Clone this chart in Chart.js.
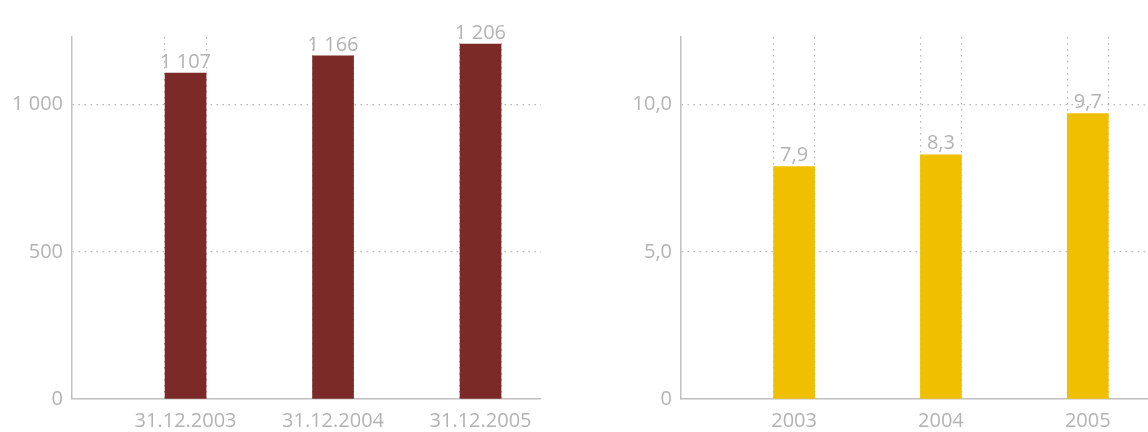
<!DOCTYPE html>
<html>
<head>
<meta charset="utf-8">
<script src="https://cdn.jsdelivr.net/npm/chart.js@4.4.1/dist/chart.umd.min.js"></script>
<style>
  html, body { margin: 0; padding: 0; background: #fff; }
  #wrap { position: relative; width: 1148px; height: 432px; overflow: hidden; }
  canvas { position: absolute; top: 0; }
</style>
</head>
<body>
<div id="wrap">
  <canvas id="left" width="574" height="432" style="left:0"></canvas>
  <canvas id="right" width="574" height="432" style="left:574px"></canvas>
</div>
<script>
// data
const leftCategories = ["31.12.2003", "31.12.2004", "31.12.2005"];
const leftValues = [1107, 1166, 1206];
const leftTicks = [0, 500, 1000];

const rightCategories = ["2003", "2004", "2005"];
const rightValues = [7.9, 8.3, 9.7];
const rightTicks = [0, 5, 10];

const GREY = "#b3b3b3";
const LINE = "#b8b8b8";
const FONT = "'Open Sans', sans-serif";

const fmtThousands = (v) => String(v).replace(/\B(?=(\d{3})+(?!\d))/g, " ");
const fmtDecimal = (v) => (v === 0 ? "0" : v.toFixed(1).replace(".", ","));

// value labels above the bars
const valueLabels = {
  id: "valueLabels",
  afterDatasetsDraw(chart, args, opts) {
    const ctx = chart.ctx;
    const meta = chart.getDatasetMeta(0);
    ctx.save();
    ctx.font = "20px " + FONT;
    ctx.fillStyle = GREY;
    ctx.textAlign = "center";
    ctx.textBaseline = "bottom";
    meta.data.forEach((bar, i) => {
      ctx.fillText(opts.format(chart.data.datasets[0].data[i].y), bar.x, bar.y - 1);
    });
    ctx.restore();
  },
};

function makeChart(id, cats, values, ticks, yMax, color, fmt, axisLeft, padRight) {
  const half = 0.14; // half bar width in category units, for the dotted edge lines
  new Chart(document.getElementById(id), {
    type: "bar",
    data: {
      datasets: [{
        data: values.map((v, i) => ({ x: i, y: v })),
        backgroundColor: color,
        barThickness: 41,
      }],
    },
    options: {
      responsive: false,
      animation: false,
      layout: { padding: { top: 37, right: padRight, left: 0, bottom: 0 } },
      plugins: {
        legend: { display: false },
        tooltip: { enabled: false },
        valueLabels: { format: fmt },
      },
      scales: {
        x: {
          type: "linear",
          offset: false,
          min: -0.77,
          max: 2.41,
          z: 1,
          afterBuildTicks(scale) {
            const t = [];
            cats.forEach((c, i) => {
              t.push({ value: i - half }, { value: i }, { value: i + half });
            });
            scale.ticks = t;
          },
          afterFit(scale) { scale.height = 33; },
          grid: {
            offset: false,
            drawTicks: false,
            color: (ctx) => (ctx.tick && Number.isInteger(ctx.tick.value) ? "rgba(0,0,0,0)" : LINE),
            lineWidth: 1.2,
          },
          border: { color: "#c0c0c0", width: 1.5, dash: [1.5, 4.5] },
          ticks: {
            autoSkip: false,
            maxRotation: 0,
            padding: 10,
            color: GREY,
            font: { family: FONT, size: 20 },
            callback: (v) => (Number.isInteger(v) ? cats[v] : ""),
          },
        },
        y: {
          min: 0,
          max: yMax,
          afterBuildTicks(scale) {
            scale.ticks = ticks.map((v) => ({ value: v }));
          },
          afterFit(scale) { scale.width = axisLeft; },
          grid: {
            drawTicks: false,
            color: (ctx) => (ctx.tick && ctx.tick.value === 0 ? "rgba(0,0,0,0)" : LINE),
            lineWidth: 1.2,
          },
          border: { color: "#c0c0c0", width: 1.5, dash: [1.5, 4.5] },
          ticks: {
            padding: 9,
            color: GREY,
            font: { family: FONT, size: 20 },
            callback: (v) => fmt(v),
          },
        },
      },
    },
    plugins: [valueLabels],
  });
}

makeChart("left", leftCategories, leftValues, leftTicks, 1230, "#7b2a27", fmtThousands, 72, 33);
makeChart("right", rightCategories, rightValues, rightTicks, 12.3, "#f0c000", fmtDecimal, 107, 0);
</script>
</body>
</html>
